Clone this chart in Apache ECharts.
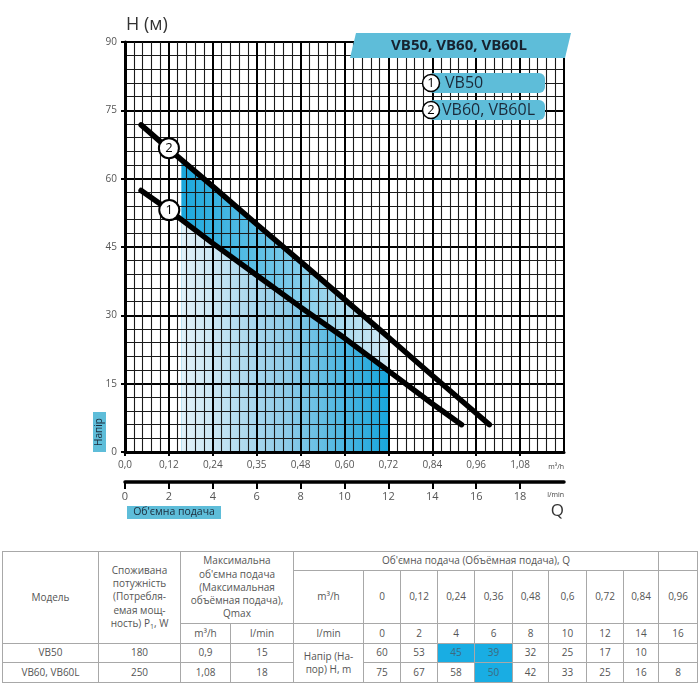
<!DOCTYPE html>
<html><head><meta charset="utf-8">
<script src="https://cdn.jsdelivr.net/npm/echarts@6/dist/echarts.min.js"></script>
<style>
html,body{margin:0;padding:0;background:#fff;width:700px;height:700px;overflow:hidden;font-family:"Open Sans",sans-serif;}
#chart{position:absolute;left:0;top:0;width:700px;height:540px;}
#tbl{position:absolute;left:2px;top:551px;border-collapse:collapse;table-layout:fixed;font-size:10px;color:#555;font-family:"Open Sans",sans-serif;}
#tbl td{border:1px solid #a8a8a8;text-align:center;vertical-align:middle;padding:0;line-height:13.3px;white-space:nowrap;overflow:hidden;}
#tbl td.hl{background:#19ade3;color:#3d6a80;}
</style></head><body>
<div id="chart"></div>
<table id="tbl"></table>
<script>
// ---------- chart data ----------
const xTickLabels = ['0,0','0,12','0,24','0,35','0,48','0,60','0,72','0,84','0,96','1,08'];
const lminTickLabels = ['0','2','4','6','8','10','12','14','16','18'];
const curve1Q = [0.044, 0.12, 0.24, 0.36, 0.48, 0.60, 0.72, 0.84, 0.92];
const curve1H = [57.4, 53.1, 45.8, 38.8, 31.8, 25.0, 17.8, 10.6, 6.0];
const curve2Q = [0.044, 0.12, 0.24, 0.36, 0.48, 0.60, 0.72, 0.84, 0.96, 0.996];
const curve2H = [71.8, 66.5, 58.3, 50.0, 41.8, 33.5, 25.2, 16.8, 8.5, 6.0];
const fillQ = [0.154, 0.24, 0.36, 0.48, 0.60, 0.72];
const fillLowH = [51.2, 45.8, 38.8, 31.8, 25.0, 17.8];
const fillHighH = [64.0, 58.3, 50.0, 41.8, 33.5, 25.2];
const markerQ = [0.121, 0.12];
const markerH = [53.1, 66.7];
const markerText = ['1', '2'];
const legendNames = ['VB50', 'VB60, VB60L'];

// ---------- table data ----------
const tableQm3 = ['0','0,12','0,24','0,36','0,48','0,6','0,72','0,84','0,96'];
const tableQlmin = ['0','2','4','6','8','10','12','14','16'];
const models = ['VB50', 'VB60, VB60L'];
const powerW = ['180', '250'];
const qmaxM3 = ['0,9', '1,08'];
const qmaxLmin = ['15', '18'];
const headVB50 = ['60','53','45','39','32','25','17','10',''];
const headVB60 = ['75','67','58','50','42','33','25','16','8'];
const highlight = [[0,2],[0,3],[1,3]];

const zip = (a, b) => a.map((v, i) => [v, b[i]]);
const FONT = '"Open Sans", sans-serif';
const BOX = '#5ebdd9';
const NAVY = '#1b2a3a';

const chart = echarts.init(document.getElementById('chart'), null, {renderer: 'canvas'});
const option = {
  animation: false,
  textStyle: {fontFamily: FONT},
  grid: [
    {left: 125, top: 42, width: 439, height: 410},
    {left: 125, top: 472, width: 439, height: 10}
  ],
  xAxis: [
    {type: 'value', gridIndex: 0, min: 0, max: 1.2, interval: 0.12, z: 5,
     axisLine: {show: true, onZero: false, lineStyle: {color: '#000', width: 3}},
     axisTick: {show: true, length: 4, lineStyle: {color: '#000', width: 2}},
     axisLabel: {margin: 8, fontSize: 10, color: '#555', fontFamily: FONT, showMaxLabel: false,
       formatter: v => { const i = Math.round(v / 0.12); return xTickLabels[i] !== undefined ? xTickLabels[i] : ''; }},
     splitLine: {show: true, lineStyle: {color: '#000', width: 2}},
     minorTick: {show: false, splitNumber: 5},
     minorSplitLine: {show: true, lineStyle: {color: '#1a1a1a', width: 1.1}}},
    {type: 'value', gridIndex: 1, min: 0, max: 20, interval: 2, position: 'bottom',
     axisLine: {show: true, onZero: false, lineStyle: {color: '#000', width: 3.5}},
     axisTick: {show: true, length: 7, lineStyle: {color: '#000', width: 2}},
     axisLabel: {margin: 9, fontSize: 11, color: '#555', fontFamily: FONT, showMaxLabel: false,
       formatter: v => { const i = Math.round(v / 2); return lminTickLabels[i] !== undefined ? lminTickLabels[i] : ''; }},
     splitLine: {show: false}}
  ],
  yAxis: [
    {type: 'value', gridIndex: 0, min: 0, max: 90, interval: 15, z: 5,
     axisLine: {show: true, lineStyle: {color: '#000', width: 3}},
     axisTick: {show: true, length: 4, lineStyle: {color: '#000', width: 2}},
     axisLabel: {margin: 8, fontSize: 10, color: '#555', fontFamily: FONT},
     splitLine: {show: true, lineStyle: {color: '#000', width: 2}},
     minorTick: {show: false, splitNumber: 5},
     minorSplitLine: {show: true, lineStyle: {color: '#1a1a1a', width: 1.1}}},
    {type: 'value', gridIndex: 1, min: 0, max: 1, show: false}
  ],
  series: [
    {type: 'line', xAxisIndex: 0, yAxisIndex: 0, data: zip(fillQ, fillHighH), symbol: 'none', z: 2,
     lineStyle: {width: 0},
     areaStyle: {opacity: 1, color: {type: 'linear', x: 0, y: 0, x2: 1, y2: 0,
       colorStops: [{offset: 0, color: '#1aa7dd'}, {offset: 1, color: '#d2e9f4'}]}}},
    {type: 'line', xAxisIndex: 0, yAxisIndex: 0, data: zip(fillQ, fillLowH), symbol: 'none', z: 3,
     lineStyle: {width: 0},
     areaStyle: {opacity: 1, color: {type: 'linear', x: 0, y: 0, x2: 1, y2: 0,
       colorStops: [{offset: 0, color: '#e3f2f9'}, {offset: 0.5, color: '#8fcbe8'}, {offset: 1, color: '#18a6dc'}]}}},
    {type: 'line', xAxisIndex: 0, yAxisIndex: 0, data: zip(curve1Q, curve1H), symbol: 'none', z: 10,
     lineStyle: {color: '#000', width: 5.5, cap: 'round'}},
    {type: 'line', xAxisIndex: 0, yAxisIndex: 0, data: zip(curve2Q, curve2H), symbol: 'none', z: 10,
     lineStyle: {color: '#000', width: 5.5, cap: 'round'}},
    {type: 'scatter', xAxisIndex: 0, yAxisIndex: 0, z: 11,
     data: markerQ.map((q, i) => [q, markerH[i], markerText[i]]),
     symbol: 'circle', symbolSize: 20,
     itemStyle: {color: '#fff', borderColor: '#000', borderWidth: 2, opacity: 1},
     label: {show: true, position: 'inside', formatter: p => p.data[2], fontSize: 13, color: '#000', fontFamily: FONT}}
  ],
  graphic: [
    {type: 'text', z: 20, left: 126, top: 16, style: {text: 'H (м)', fill: '#333', font: '18px ' + FONT}},
    {type: 'rect', z: 20, shape: {x: 93, y: 412, width: 13, height: 40}, style: {fill: BOX}},
    {type: 'text', z: 21, x: 99.5, y: 432, rotation: Math.PI / 2,
     style: {text: 'Напір', fill: NAVY, font: '10px ' + FONT, align: 'center', verticalAlign: 'middle'}},
    {type: 'rect', z: 20, shape: {x: 127, y: 506, width: 94, height: 13}, style: {fill: BOX}},
    {type: 'text', z: 21, x: 174, y: 512.5,
     style: {text: "Об'ємна подача", fill: NAVY, font: '10.5px ' + FONT, align: 'center', verticalAlign: 'middle'}},
    {type: 'text', z: 21, x: 564, y: 511, style: {text: 'Q', fill: '#333', font: '17px ' + FONT, align: 'right', verticalAlign: 'middle'}},
    {type: 'text', z: 21, x: 564, y: 467, style: {text: 'm³/h', fill: '#444', font: '7px ' + FONT, align: 'right', verticalAlign: 'middle'}},
    {type: 'text', z: 21, x: 564, y: 495, style: {text: 'l/min', fill: '#444', font: '7px ' + FONT, align: 'right', verticalAlign: 'middle'}},
    {type: 'polygon', z: 20, shape: {points: [[356, 33], [571, 33], [565, 58], [350, 58]]}, style: {fill: BOX}},
    {type: 'text', z: 21, x: 459, y: 45.5,
     style: {text: 'VB50, VB60, VB60L', fill: '#17222f', font: 'bold 15px ' + FONT, align: 'center', verticalAlign: 'middle'}},
    {type: 'rect', z: 20, shape: {x: 428, y: 73, width: 117, height: 20, r: 6}, style: {fill: BOX}},
    {type: 'circle', z: 21, shape: {cx: 431, cy: 83, r: 8.5}, style: {fill: '#fff', stroke: '#000', lineWidth: 1.5}},
    {type: 'text', z: 22, x: 431, y: 83.5, style: {text: markerText[0], fill: '#000', font: '13px ' + FONT, align: 'center', verticalAlign: 'middle'}},
    {type: 'text', z: 22, x: 445, y: 83.5, style: {text: legendNames[0], fill: NAVY, font: '16px ' + FONT, align: 'left', verticalAlign: 'middle'}},
    {type: 'rect', z: 20, shape: {x: 428, y: 100, width: 117, height: 20, r: 6}, style: {fill: BOX}},
    {type: 'circle', z: 21, shape: {cx: 431, cy: 110, r: 8.5}, style: {fill: '#fff', stroke: '#000', lineWidth: 1.5}},
    {type: 'text', z: 22, x: 431, y: 110.5, style: {text: markerText[1], fill: '#000', font: '13px ' + FONT, align: 'center', verticalAlign: 'middle'}},
    {type: 'text', z: 22, x: 442, y: 110.5, style: {text: legendNames[1], fill: NAVY, font: '16px ' + FONT, align: 'left', verticalAlign: 'middle'}}
  ]
};
chart.setOption(option);

// ---------- table ----------
const colW = [96, 82, 50, 63, 70, 37, 37, 37, 38, 36, 38, 37, 35, 39];
const isHl = (r, c) => highlight.some(h => h[0] === r && h[1] === c);
let h = '<colgroup>' + colW.map(w => `<col style="width:${w}px">`).join('') + '</colgroup>';
h += '<tr style="height:19px">' +
  `<td rowspan="3">Модель</td>` +
  `<td rowspan="3">Споживана<br>потужність<br>(Потребля-<br>емая мощ-<br>ность) P<span style="font-size:7px;position:relative;top:2px">1</span>, W</td>` +
  `<td colspan="2" rowspan="2">Максимальна<br>об'ємна подача<br>(Максимальная<br>объёмная подача),<br>Qmax</td>` +
  `<td colspan="9">Об'ємна подача (Объёмная подача), Q</td><td></td></tr>`;
h += '<tr style="height:53px"><td>m³/h</td>' + tableQm3.map(v => `<td>${v}</td>`).join('') + '</tr>';
h += '<tr style="height:20px"><td>m³/h</td><td>l/min</td><td>l/min</td>' + tableQlmin.map(v => `<td>${v}</td>`).join('') + '</tr>';
h += '<tr style="height:19px">' + `<td>${models[0]}</td><td>${powerW[0]}</td><td>${qmaxM3[0]}</td><td>${qmaxLmin[0]}</td>` +
  `<td rowspan="2">Напір (На-<br>пор) H, m</td>` +
  headVB50.map((v, i) => `<td${isHl(0, i) ? ' class="hl"' : ''}>${v}</td>`).join('') + '</tr>';
h += '<tr style="height:20px">' + `<td>${models[1]}</td><td>${powerW[1]}</td><td>${qmaxM3[1]}</td><td>${qmaxLmin[1]}</td>` +
  headVB60.map((v, i) => `<td${isHl(1, i) ? ' class="hl"' : ''}>${v}</td>`).join('') + '</tr>';
document.getElementById('tbl').innerHTML = h;
</script>
</body></html>
